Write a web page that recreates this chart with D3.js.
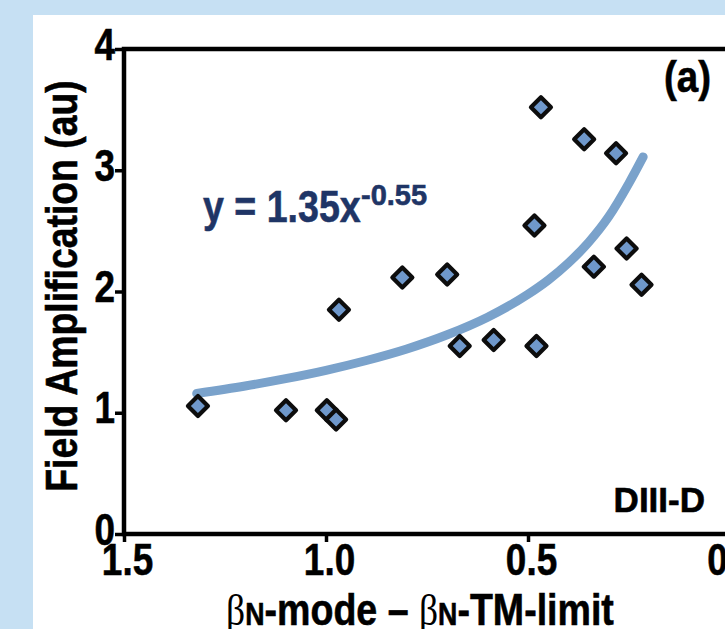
<!DOCTYPE html>
<html>
<head>
<meta charset="utf-8">
<script src="https://cdn.jsdelivr.net/npm/d3@7"></script>
<style>
  html, body { margin: 0; padding: 0; background: #c6e0f3; }
  svg { display: block; }
  .narrow { font-family: "Liberation Sans", Arial, Helvetica, sans-serif; font-weight: bold; stroke-width: 0.6; }
</style>
</head>
<body>
<svg id="chart" width="725" height="629"></svg>
<script>
// ---- data ----
const pointX = [1.317, 1.099, 0.998, 0.975, 0.968, 0.811, 0.700, 0.669, 0.585, 0.479, 0.484, 0.468, 0.361, 0.282, 0.337, 0.256, 0.219];
const pointY = [1.055, 1.020, 1.020, 0.945, 1.850, 2.115, 2.140, 1.550, 1.600, 1.550, 2.545, 3.520, 3.255, 3.140, 2.205, 2.355, 2.055];

// fitted curve
const fitX = [1.32, 1.2, 1.1, 1.0, 0.9, 0.8, 0.7, 0.6, 0.5, 0.45, 0.4, 0.35, 0.3, 0.25, 0.215];
const fitY = [1.159, 1.221, 1.281, 1.350, 1.431, 1.526, 1.643, 1.788, 1.977, 2.094, 2.235, 2.405, 2.618, 2.894, 3.110];

const xTicks = [1.5, 1.0, 0.5, 0];
const xTickLabels = ["1.5", "1.0", "0.5", "0"];
const yTicks = [0, 1, 2, 3, 4];
const yTickLabels = ["0", "1", "2", "3", "4"];

const yTitle = "Field Amplification (au)";
const eqMain = "y = 1.35x";
const eqExp = "-0.55";
const panelLabel = "(a)";
const machineLabel = "DIII-D";

// ---- drawing ----
const svg = d3.select("#chart");

// white panel
svg.append("rect").attr("x", 33).attr("y", 15).attr("width", 700).attr("height", 620).attr("fill", "#ffffff");

const x = d3.scaleLinear().domain([1.5, 0]).range([124, 730]);
const y = d3.scaleLinear().domain([0, 4]).range([534, 49]);

const axisColor = "#000";
const SX = 0.82; // horizontal condensing of the bold sans text

// y axis
const yAxis = svg.append("g").attr("transform", `translate(${x(1.5)},0)`)
  .call(d3.axisLeft(y).tickValues(yTicks).tickFormat((d, i) => yTickLabels[i]).tickSize(9));
yAxis.select(".domain").remove();
yAxis.selectAll(".tick line").attr("stroke", axisColor).attr("stroke-width", 3.5);
yAxis.selectAll(".tick text").attr("class", "narrow").attr("font-size", 45).attr("fill", "#000").attr("stroke", "#000")
  .attr("x", 0).attr("y", 0).attr("dy", null)
  .attr("transform", `translate(-9,10) scale(${SX},1)`);

// x axis
const xAxis = svg.append("g").attr("transform", `translate(0,${y(0)})`)
  .call(d3.axisBottom(x).tickValues(xTicks).tickFormat((d, i) => xTickLabels[i]).tickSize(8));
xAxis.select(".domain").remove();
xAxis.selectAll(".tick line").attr("stroke", axisColor).attr("stroke-width", 3.5)
  .attr("opacity", d => d === 0 ? 0 : 1);
xAxis.selectAll(".tick text").attr("class", "narrow").attr("font-size", 45).attr("fill", "#000").attr("stroke", "#000")
  .attr("x", 0).attr("y", 0).attr("dy", null)
  .attr("transform", d => d === 0 ? `translate(-13,41) scale(${SX},1)` : `translate(3,41) scale(${SX},1)`);

// frame
svg.append("rect")
  .attr("x", x(1.5)).attr("y", y(4))
  .attr("width", x(0) - x(1.5)).attr("height", y(0) - y(4))
  .attr("fill", "none").attr("stroke", axisColor).attr("stroke-width", 4.5);

// fitted curve
const fitData = fitX.map((d, i) => [d, fitY[i]]);
svg.append("path")
  .datum(fitData)
  .attr("fill", "none")
  .attr("stroke", "#7aa2cb")
  .attr("stroke-width", 9)
  .attr("stroke-linecap", "round")
  .attr("d", d3.line().x(d => x(d[0])).y(d => y(d[1])).curve(d3.curveMonotoneX));

// points (diamonds)
const pts = pointX.map((d, i) => [d, pointY[i]]);
const diamond = d3.symbol().type(d3.symbolSquare).size(2 * 10 * 10);
svg.append("g").selectAll("path")
  .data(pts)
  .join("path")
  .attr("d", diamond)
  .attr("transform", d => `translate(${x(d[0])},${y(d[1])}) rotate(45)`)
  .attr("fill", "#6f98cb")
  .attr("stroke", "#0d0d0d")
  .attr("stroke-width", 4.2)
  .attr("stroke-linejoin", "round");

// equation
svg.append("text").attr("class", "narrow")
  .attr("transform", `translate(203,222) scale(0.835,1)`)
  .attr("fill", "#1f3566").attr("stroke", "#1f3566").attr("font-size", 45).text(eqMain);
svg.append("text").attr("class", "narrow")
  .attr("transform", `translate(361,205) scale(1.0,1)`)
  .attr("fill", "#1f3566").attr("stroke", "#1f3566").attr("font-size", 29).text(eqExp);

// panel label
svg.append("text").attr("class", "narrow")
  .attr("transform", `translate(711,92) scale(0.855,1)`)
  .attr("text-anchor", "end").attr("font-size", 45).attr("fill", "#000").attr("stroke", "#000").text(panelLabel);

// machine label
svg.append("text").attr("class", "narrow")
  .attr("transform", `translate(705,512)`)
  .attr("text-anchor", "end").attr("font-size", 35).attr("fill", "#000").attr("stroke", "#000").text(machineLabel);

// y title
svg.append("text").attr("class", "narrow")
  .attr("transform", "translate(77,286) rotate(-90) scale(0.83,1)")
  .attr("text-anchor", "middle").attr("font-size", 45).attr("fill", "#000").attr("stroke", "#000").text(yTitle);

// x title: βN-mode – βN-TM-limit
const xt = svg.append("text").attr("class", "narrow")
  .attr("transform", "translate(420,625) scale(0.835,1)")
  .attr("text-anchor", "middle").attr("font-size", 45).attr("fill", "#000").attr("stroke", "#000");
xt.append("tspan").attr("font-family", "'Liberation Serif', 'DejaVu Serif', serif").attr("font-weight", "normal").attr("stroke", "none").text("β");
xt.append("tspan").attr("font-size", 32).text("N");
xt.append("tspan").text("-mode – ");
xt.append("tspan").attr("font-family", "'Liberation Serif', 'DejaVu Serif', serif").attr("font-weight", "normal").attr("stroke", "none").text("β");
xt.append("tspan").attr("font-size", 32).text("N");
xt.append("tspan").text("-TM-limit");
</script>
</body>
</html>
